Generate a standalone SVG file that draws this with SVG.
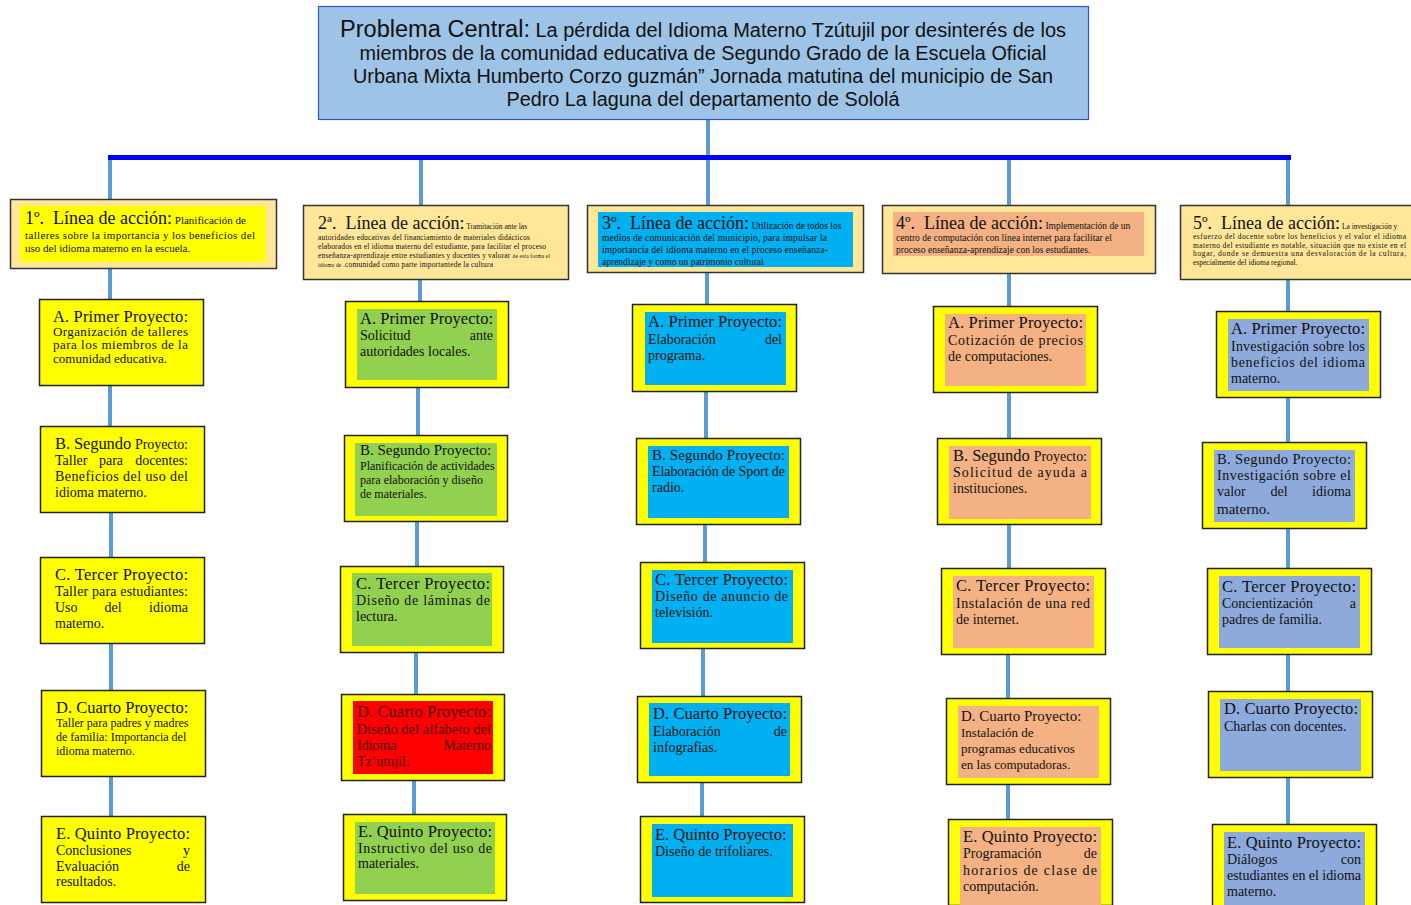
<svg xmlns="http://www.w3.org/2000/svg" width="1411" height="905" viewBox="0 0 1411 905">
<style>
.s{font-family:"Liberation Serif","Times New Roman",serif;fill:#111}
.ti{font-family:"Liberation Sans",Arial,sans-serif;fill:#111;text-anchor:middle}
.pt{font-size:16.5px}
.b12{font-size:13px}
.b13{font-size:14px}
.b11{font-size:12px}
.out{fill:#FFFF00;stroke:#222;stroke-width:1.5}
.hdr{fill:#FFE699;stroke:#333;stroke-width:1.5}
.g{fill:#92D050}.c{fill:#00B0F0}.o{fill:#F4B183}.v{fill:#8EA9DB}.r{fill:#FF0000}
.ln{stroke:#5B9BD5;stroke-width:4;fill:none}
.e{text-anchor:end}
.m{text-anchor:middle}
.dr{fill:#4a0000}
</style>
<rect width="1411" height="905" fill="#fff"/>

<g id="connectors">
<line class="ln" x1="708" y1="120" x2="708" y2="157"/>
<line class="ln" x1="110" y1="157" x2="110" y2="199"/>
<line class="ln" x1="421" y1="157" x2="421" y2="205"/>
<line class="ln" x1="708" y1="157" x2="708" y2="205"/>
<line class="ln" x1="1009" y1="157" x2="1009" y2="205"/>
<line class="ln" x1="1288" y1="157" x2="1288" y2="205"/>
<line x1="108" y1="157.5" x2="1291" y2="157.5" stroke="#0000FF" stroke-width="5"/>
<line class="ln" x1="110" y1="269" x2="110" y2="299"/>
<line class="ln" x1="110" y1="386" x2="110" y2="426"/>
<line class="ln" x1="111" y1="513" x2="111" y2="557"/>
<line class="ln" x1="111" y1="644" x2="111" y2="690"/>
<line class="ln" x1="111" y1="776" x2="111" y2="816"/>
<line class="ln" x1="420" y1="280" x2="420" y2="301"/>
<line class="ln" x1="418" y1="388" x2="418" y2="435"/>
<line class="ln" x1="417" y1="522" x2="417" y2="566"/>
<line class="ln" x1="416" y1="653" x2="416" y2="694"/>
<line class="ln" x1="414" y1="781" x2="414" y2="814"/>
<line class="ln" x1="707" y1="273" x2="707" y2="304"/>
<line class="ln" x1="706" y1="392" x2="706" y2="438"/>
<line class="ln" x1="705" y1="525" x2="705" y2="562"/>
<line class="ln" x1="703" y1="649" x2="703" y2="696"/>
<line class="ln" x1="702" y1="783" x2="702" y2="816"/>
<line class="ln" x1="1009" y1="274" x2="1009" y2="306"/>
<line class="ln" x1="1009" y1="393" x2="1009" y2="438"/>
<line class="ln" x1="1009" y1="525" x2="1009" y2="568"/>
<line class="ln" x1="1008" y1="655" x2="1008" y2="698"/>
<line class="ln" x1="1008" y1="785" x2="1008" y2="819"/>
<line class="ln" x1="1288" y1="280" x2="1288" y2="311"/>
<line class="ln" x1="1288" y1="398" x2="1288" y2="442"/>
<line class="ln" x1="1288" y1="529" x2="1288" y2="568"/>
<line class="ln" x1="1288" y1="655" x2="1288" y2="691"/>
<line class="ln" x1="1288" y1="778" x2="1288" y2="824"/>
</g>

<g id="title">
<rect x="318.5" y="6.5" width="770" height="113" fill="#9DC3E6" stroke="#3A4FD0" stroke-width="1.2"/>
<text class="ti" x="703" y="37" font-size="19.5" textLength="726" lengthAdjust="spacingAndGlyphs"><tspan font-size="23">Problema Central:</tspan> La pérdida del Idioma Materno Tzútujil por desinterés de los</text>
<text class="ti" x="703" y="60" font-size="19.5" textLength="687" lengthAdjust="spacingAndGlyphs">miembros de la comunidad educativa de Segundo Grado de la Escuela Oficial</text>
<text class="ti" x="703" y="83" font-size="19.5" textLength="700" lengthAdjust="spacingAndGlyphs">Urbana Mixta Humberto Corzo guzmán” Jornada matutina del municipio de San</text>
<text class="ti" x="703" y="106" font-size="19.5" textLength="393" lengthAdjust="spacingAndGlyphs">Pedro La laguna del departamento de Sololá</text>
</g>

<g id="linea1">
<rect class="hdr" x="10.5" y="199.5" width="266" height="69"/>
<rect x="20" y="206" width="246" height="56" fill="#FFFF00"/>
<text class="s" x="25" y="224" xml:space="preserve"><tspan font-size="18">1º.  Línea de acción:</tspan><tspan font-size="11"> Planificación de</tspan></text>
<text class="s" x="25" y="239" font-size="11" textLength="230" lengthAdjust="spacing">talleres sobre la importancia y los beneficios del</text>
<text class="s" x="25" y="252" font-size="11">uso del idioma materno en la escuela.</text>
</g>

<g id="linea2">
<rect class="hdr" x="303.5" y="205.5" width="265" height="74"/>
<text class="s" x="318" y="229" xml:space="preserve"><tspan font-size="18">2ª.  Línea de acción:</tspan><tspan font-size="7.5"> Tramitación ante las</tspan></text>
<text class="s" x="318" y="240" font-size="7.5" textLength="212" lengthAdjust="spacing">autoridades educativas del financiamiento de materiales didácticos</text>
<text class="s" x="318" y="249" font-size="7.5" textLength="228" lengthAdjust="spacing">elaborados en el idioma materno del estudiante, para facilitar el proceso</text>
<text class="s" x="318" y="258" font-size="7.5" textLength="232" lengthAdjust="spacing">enseñanza-aprendizaje entre estudiantes y docentes y valorar <tspan font-size="5.5">de esta forma el</tspan></text>
<text class="s" x="318" y="267" font-size="7.5" textLength="175" lengthAdjust="spacing"><tspan font-size="5.5">idioma de </tspan>.comunidad como parte importantede la cultura</text>
</g>

<g id="linea3">
<rect class="hdr" x="587.5" y="205.5" width="276" height="67"/>
<rect x="598" y="212" width="255" height="55" class="c"/>
<text class="s" x="602" y="229" xml:space="preserve"><tspan font-size="18">3º.  Línea de acción:</tspan><tspan font-size="9.5"> Utilización de todos los</tspan></text>
<text class="s" x="602" y="241" font-size="9.5" textLength="225" lengthAdjust="spacing">medios de comunicación del municipio, para impulsar la</text>
<text class="s" x="602" y="253" font-size="9.5" textLength="226" lengthAdjust="spacing">importancia  del idioma materno en el proceso enseñanza-</text>
<text class="s" x="602" y="265" font-size="9.5">aprendizaje y como un patrimonio cultural</text>
</g>

<g id="linea4">
<rect class="hdr" x="882.5" y="205.5" width="273" height="68"/>
<rect x="893" y="212" width="251" height="44" class="o"/>
<text class="s" x="896" y="229" xml:space="preserve"><tspan font-size="18">4º.  Línea de acción:</tspan><tspan font-size="9.5"> Implementación de un</tspan></text>
<text class="s" x="896" y="241" font-size="9.5" textLength="216" lengthAdjust="spacing">centro de computación con línea internet para facilitar el</text>
<text class="s" x="896" y="253" font-size="9.5">proceso enseñanza-aprendizaje con los estudiantes.</text>
</g>

<g id="linea5">
<rect class="hdr" x="1180.5" y="205.5" width="240" height="74"/>
<text class="s" x="1193" y="229" xml:space="preserve"><tspan font-size="18">5º.  Línea de acción:</tspan><tspan font-size="7.5"> La investigación y</tspan></text>
<text class="s" x="1193" y="239" font-size="7.5" textLength="213" lengthAdjust="spacing">esfuerzo del docente sobre los beneficios y el valor el idioma</text>
<text class="s" x="1193" y="248" font-size="7.5" textLength="213" lengthAdjust="spacing">materno del estudiante es notable, situación que no existe en el</text>
<text class="s" x="1193" y="256" font-size="7.5" textLength="213" lengthAdjust="spacing">hogar, donde se demuestra una desvaloración de la cultura,</text>
<text class="s" x="1193" y="265" font-size="7.5">especialmente del idioma regional.</text>
</g>

<g id="c1a">
<rect class="out" x="39.5" y="299.5" width="164" height="86"/>
<text class="s pt" x="53" y="322" textLength="135" lengthAdjust="spacing">A. Primer Proyecto:</text>
<text class="s b12" x="53" y="336" textLength="135" lengthAdjust="spacing">Organización  de  talleres</text>
<text class="s b12" x="53" y="349" textLength="135" lengthAdjust="spacing">para los miembros de la</text>
<text class="s b12" x="53" y="363">comunidad educativa.</text>
</g>
<g id="c1b">
<rect class="out" x="40.5" y="426.5" width="164" height="86"/>
<text class="s" x="55" y="449" textLength="133" lengthAdjust="spacing"><tspan font-size="16.5">B. Segundo </tspan><tspan font-size="14">Proyecto:</tspan></text>
<text class="s b13" x="55" y="465">Taller</text><text class="s b13 m" x="111" y="465">para</text><text class="s b13 e" x="188" y="465">docentes:</text>
<text class="s b13" x="55" y="481" textLength="133" lengthAdjust="spacing">Beneficios del uso del</text>
<text class="s b13" x="55" y="497">idioma materno.</text>
</g>
<g id="c1c">
<rect class="out" x="40.5" y="557.5" width="164" height="86"/>
<text class="s pt" x="55" y="580" textLength="133" lengthAdjust="spacing">C. Tercer Proyecto:</text>
<text class="s b13" x="55" y="596" textLength="133" lengthAdjust="spacing">Taller para estudiantes:</text>
<text class="s b13" x="55" y="612">Uso</text><text class="s b13 m" x="113" y="612">del</text><text class="s b13 e" x="188" y="612">idioma</text>
<text class="s b13" x="55" y="628">materno.</text>
</g>
<g id="c1d">
<rect class="out" x="41.5" y="690.5" width="164" height="86"/>
<text class="s pt" x="56" y="713">D. Cuarto Proyecto:</text>
<text class="s b11" x="56" y="727">Taller para padres y madres</text>
<text class="s b11" x="56" y="741">de familia: Importancia del</text>
<text class="s b11" x="56" y="755">idioma materno.</text>
</g>
<g id="c1e">
<rect class="out" x="41.5" y="816.5" width="164" height="86"/>
<text class="s pt" x="56" y="839" textLength="134" lengthAdjust="spacing">E. Quinto Proyecto:</text>
<text class="s b13" x="56" y="855">Conclusiones</text><text class="s b13 e" x="190" y="855">y</text>
<text class="s b13" x="56" y="871">Evaluación</text><text class="s b13 e" x="190" y="871">de</text>
<text class="s b13" x="56" y="886">resultados.</text>
</g>

<g id="c2a">
<rect class="out" x="345.5" y="301.5" width="163" height="86"/>
<rect x="357" y="309" width="140" height="71" class="g"/>
<text class="s pt" x="360" y="324" textLength="133" lengthAdjust="spacing">A. Primer Proyecto:</text>
<text class="s b13" x="360" y="340">Solicitud</text><text class="s b13 e" x="493" y="340">ante</text>
<text class="s b13" x="360" y="356">autoridades locales.</text>
</g>
<g id="c2b">
<rect class="out" x="344.5" y="435.5" width="163" height="86"/>
<rect x="355" y="443" width="142" height="73" class="g"/>
<text class="s" x="360" y="455" font-size="15">B. Segundo Proyecto:</text>
<text class="s b11" x="360" y="470">Planificación de actividades</text>
<text class="s b11" x="360" y="484">para elaboración y diseño</text>
<text class="s b11" x="360" y="498">de materiales.</text>
</g>
<g id="c2c">
<rect class="out" x="340.5" y="566.5" width="163" height="86"/>
<rect x="352" y="573" width="140" height="73" class="g"/>
<text class="s pt" x="356" y="589" textLength="134" lengthAdjust="spacing">C. Tercer Proyecto:</text>
<text class="s b13" x="356" y="605" textLength="134" lengthAdjust="spacing">Diseño de láminas de</text>
<text class="s b13" x="356" y="621">lectura.</text>
</g>
<g id="c2d">
<rect class="out" x="341.5" y="694.5" width="163" height="86"/>
<rect x="353" y="701" width="140" height="73" class="r"/>
<text class="s pt dr" x="357" y="717" textLength="134" lengthAdjust="spacing">D. Cuarto Proyecto:</text>
<text class="s b13 dr" x="357" y="734" textLength="134" lengthAdjust="spacing">Diseño del alfabeto del</text>
<text class="s b13 dr" x="357" y="750">Idioma</text><text class="s b13 e dr" x="491" y="750">Materno</text>
<text class="s b13 dr" x="357" y="766">Tz’utujil.</text>
</g>
<g id="c2e">
<rect class="out" x="343.5" y="814.5" width="163" height="86"/>
<rect x="355" y="822" width="140" height="72" class="g"/>
<text class="s pt" x="358" y="837" textLength="134" lengthAdjust="spacing">E. Quinto Proyecto:</text>
<text class="s b13" x="358" y="853" textLength="134" lengthAdjust="spacing">Instructivo del uso de</text>
<text class="s b13" x="358" y="868">materiales.</text>
</g>

<g id="c3a">
<rect class="out" x="632.5" y="304.5" width="164" height="87"/>
<rect x="645" y="312" width="141" height="73" class="c"/>
<text class="s pt" x="648" y="327" textLength="134" lengthAdjust="spacing">A. Primer Proyecto:</text>
<text class="s b13" x="648" y="344">Elaboración</text><text class="s b13 e" x="782" y="344">del</text>
<text class="s b13" x="648" y="360">programa.</text>
</g>
<g id="c3b">
<rect class="out" x="636.5" y="438.5" width="164" height="86"/>
<rect x="648" y="446" width="141" height="72" class="c"/>
<text class="s" x="652" y="460" font-size="15" textLength="133" lengthAdjust="spacing">B. Segundo Proyecto:</text>
<text class="s b13" x="652" y="476" textLength="133" lengthAdjust="spacing">Elaboración de Sport de</text>
<text class="s b13" x="652" y="492">radio.</text>
</g>
<g id="c3c">
<rect class="out" x="640.5" y="562.5" width="164" height="86"/>
<rect x="652" y="570" width="141" height="73" class="c"/>
<text class="s pt" x="655" y="585" textLength="133" lengthAdjust="spacing">C. Tercer Proyecto:</text>
<text class="s b13" x="655" y="601" textLength="133" lengthAdjust="spacing">Diseño de anuncio de</text>
<text class="s b13" x="655" y="617">televisión.</text>
</g>
<g id="c3d">
<rect class="out" x="637.5" y="696.5" width="164" height="86"/>
<rect x="649" y="703" width="141" height="73" class="c"/>
<text class="s pt" x="653" y="719" textLength="134" lengthAdjust="spacing">D. Cuarto Proyecto:</text>
<text class="s b13" x="653" y="736">Elaboración</text><text class="s b13 e" x="787" y="736">de</text>
<text class="s b13" x="653" y="752">infografías.</text>
</g>
<g id="c3e">
<rect class="out" x="640.5" y="816.5" width="164" height="86"/>
<rect x="652" y="824" width="141" height="73" class="c"/>
<text class="s pt" x="655" y="840">E. Quinto Proyecto:</text>
<text class="s b13" x="655" y="856">Diseño de trifoliares.</text>
</g>

<g id="c4a">
<rect class="out" x="933.5" y="306.5" width="164" height="86"/>
<rect x="945" y="314" width="141" height="72" class="o"/>
<text class="s pt" x="948" y="328" textLength="135" lengthAdjust="spacing">A. Primer Proyecto:</text>
<text class="s b13" x="948" y="345" textLength="135" lengthAdjust="spacing">Cotización de precios</text>
<text class="s b13" x="948" y="361">de computaciones.</text>
</g>
<g id="c4b">
<rect class="out" x="937.5" y="438.5" width="164" height="86"/>
<rect x="949" y="446" width="142" height="73" class="o"/>
<text class="s" x="953" y="461" textLength="134" lengthAdjust="spacing"><tspan font-size="16.5">B. Segundo </tspan><tspan font-size="14">Proyecto:</tspan></text>
<text class="s b13" x="953" y="477" textLength="134" lengthAdjust="spacing">Solicitud de ayuda a</text>
<text class="s b13" x="953" y="493">instituciones.</text>
</g>
<g id="c4c">
<rect class="out" x="941.5" y="568.5" width="164" height="86"/>
<rect x="953" y="576" width="141" height="72" class="o"/>
<text class="s pt" x="956" y="591" textLength="134" lengthAdjust="spacing">C. Tercer Proyecto:</text>
<text class="s b13" x="956" y="608" textLength="134" lengthAdjust="spacing">Instalación de una red</text>
<text class="s b13" x="956" y="624">de internet.</text>
</g>
<g id="c4d">
<rect class="out" x="946.5" y="698.5" width="164" height="86"/>
<rect x="958" y="706" width="141" height="72" class="o"/>
<text class="s" x="961" y="721" font-size="15">D. Cuarto Proyecto:</text>
<text class="s" x="961" y="737" font-size="13">Instalación de</text>
<text class="s" x="961" y="753" font-size="13">programas educativos</text>
<text class="s" x="961" y="769" font-size="13">en las computadoras.</text>
</g>
<g id="c4e">
<rect class="out" x="948.5" y="819.5" width="164" height="86"/>
<rect x="960" y="827" width="141" height="78" class="o"/>
<text class="s pt" x="963" y="842" textLength="134" lengthAdjust="spacing">E. Quinto Proyecto:</text>
<text class="s b13" x="963" y="858">Programación</text><text class="s b13 e" x="1097" y="858">de</text>
<text class="s b13" x="963" y="875" textLength="134" lengthAdjust="spacing">horarios de clase de</text>
<text class="s b13" x="963" y="891">computación.</text>
</g>

<g id="c5a">
<rect class="out" x="1216.5" y="311.5" width="164" height="86"/>
<rect x="1228" y="319" width="141" height="72" class="v"/>
<text class="s pt" x="1231" y="334" textLength="134" lengthAdjust="spacing">A. Primer Proyecto:</text>
<text class="s b13" x="1231" y="351" textLength="134" lengthAdjust="spacing">Investigación sobre los</text>
<text class="s b13" x="1231" y="367" textLength="134" lengthAdjust="spacing">beneficios del idioma</text>
<text class="s b13" x="1231" y="383">materno.</text>
</g>
<g id="c5b">
<rect class="out" x="1202.5" y="442.5" width="164" height="86"/>
<rect x="1214" y="450" width="141" height="72" class="v"/>
<text class="s" x="1217" y="464" font-size="14.5" textLength="134" lengthAdjust="spacing">B. Segundo Proyecto:</text>
<text class="s b13" x="1217" y="480" textLength="134" lengthAdjust="spacing">Investigación sobre el</text>
<text class="s b13" x="1217" y="496">valor</text><text class="s b13 m" x="1279" y="496">del</text><text class="s b13 e" x="1351" y="496">idioma</text>
<text class="s" x="1217" y="514" font-size="15">materno.</text>
</g>
<g id="c5c">
<rect class="out" x="1207.5" y="568.5" width="164" height="86"/>
<rect x="1219" y="576" width="141" height="72" class="v"/>
<text class="s pt" x="1222" y="592" textLength="134" lengthAdjust="spacing">C. Tercer Proyecto:</text>
<text class="s b13" x="1222" y="608">Concientización</text><text class="s b13 e" x="1356" y="608">a</text>
<text class="s b13" x="1222" y="624">padres de familia.</text>
</g>
<g id="c5d">
<rect class="out" x="1208.5" y="691.5" width="164" height="86"/>
<rect x="1220" y="699" width="141" height="72" class="v"/>
<text class="s pt" x="1224" y="714" textLength="134" lengthAdjust="spacing">D. Cuarto Proyecto:</text>
<text class="s b13" x="1224" y="731">Charlas con docentes.</text>
</g>
<g id="c5e">
<rect class="out" x="1212.5" y="824.5" width="164" height="86"/>
<rect x="1224" y="832" width="141" height="73" class="v"/>
<text class="s pt" x="1227" y="848" textLength="134" lengthAdjust="spacing">E. Quinto Proyecto:</text>
<text class="s b13" x="1227" y="864">Diálogos</text><text class="s b13 e" x="1361" y="864">con</text>
<text class="s b13" x="1227" y="880" textLength="134" lengthAdjust="spacing">estudiantes en el idioma</text>
<text class="s b13" x="1227" y="896">materno.</text>
</g>
</svg>
